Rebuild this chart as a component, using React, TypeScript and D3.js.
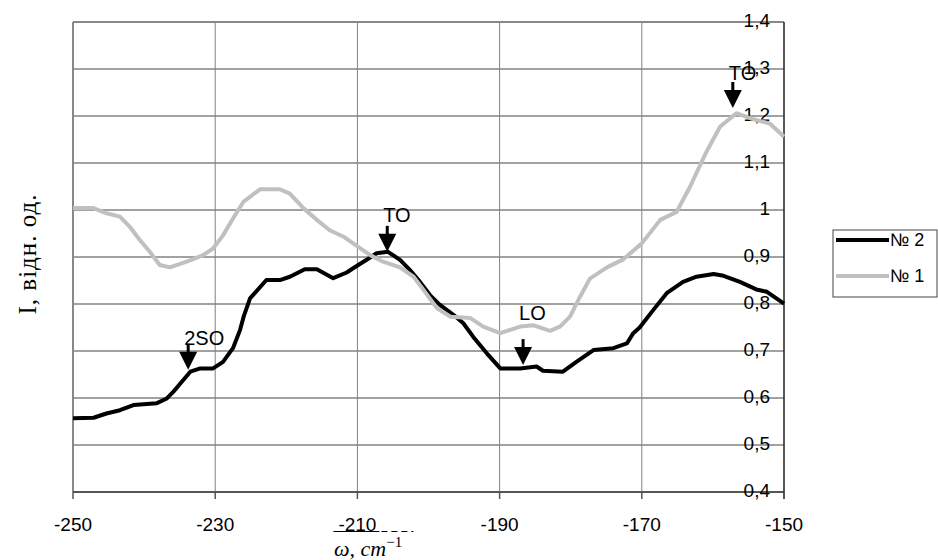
import * as React from 'react';
import * as d3 from 'd3';

// sample №2 (black)
const s2X = [-250, -247.1, -245.3, -243.4, -241.5, -238.2, -236.8, -235.9, -234.9, -233.5, -232.1, -230.3, -228.9, -227.5, -226.5, -226.0, -225.1, -222.8, -220.9, -219.5, -217.4, -215.7, -213.4, -211.5, -210.6, -208.7, -207.3, -205.7, -204.0, -202.6, -201.2, -199.8, -198.4, -196.5, -195.1, -193.7, -191.8, -189.9, -187.1, -184.8, -183.9, -181.1, -179.2, -176.8, -174.0, -172.1, -171.2, -170.3, -168.4, -166.5, -164.2, -162.3, -159.9, -158.5, -156.2, -153.9, -152.4, -150];
const s2Y = [0.557, 0.558, 0.567, 0.574, 0.585, 0.589, 0.599, 0.613, 0.631, 0.656, 0.663, 0.663, 0.677, 0.706, 0.745, 0.773, 0.812, 0.851, 0.851, 0.858, 0.874, 0.874, 0.855, 0.867, 0.876, 0.894, 0.908, 0.911, 0.894, 0.872, 0.847, 0.819, 0.798, 0.777, 0.759, 0.730, 0.695, 0.663, 0.663, 0.667, 0.658, 0.656, 0.677, 0.702, 0.706, 0.716, 0.738, 0.750, 0.787, 0.823, 0.847, 0.858, 0.864, 0.860, 0.847, 0.831, 0.826, 0.801];

// sample №1 (grey)
const s1X = [-250, -247.1, -245.3, -243.4, -242.0, -240.6, -239.2, -237.8, -236.4, -234.0, -231.7, -230.3, -228.9, -227.5, -226.0, -223.7, -220.9, -219.5, -217.6, -215.7, -213.9, -211.8, -210.6, -208.2, -206.4, -204.0, -202.1, -200.7, -198.8, -196.9, -194.1, -192.3, -189.9, -187.1, -185.3, -182.9, -181.5, -180.1, -178.7, -177.3, -174.9, -172.6, -170.0, -167.4, -165.1, -163.2, -160.9, -159.0, -156.7, -154.3, -152.0, -150];
const s1Y = [1.004, 1.004, 0.993, 0.986, 0.964, 0.936, 0.911, 0.883, 0.878, 0.890, 0.904, 0.918, 0.946, 0.982, 1.018, 1.044, 1.044, 1.035, 1.004, 0.979, 0.957, 0.942, 0.929, 0.904, 0.890, 0.878, 0.858, 0.830, 0.791, 0.773, 0.770, 0.752, 0.738, 0.752, 0.755, 0.743, 0.752, 0.773, 0.815, 0.854, 0.878, 0.895, 0.929, 0.979, 0.996, 1.050, 1.124, 1.177, 1.206, 1.193, 1.184, 1.156];

const xTicks = [-250, -230, -210, -190, -170, -150];
const yTicks = [0.4, 0.5, 0.6, 0.7, 0.8, 0.9, 1, 1.1, 1.2, 1.3, 1.4];

// annotations: label, arrow x, arrow tip y, label baseline y (data units)
const annLabels = ['2SO', 'TO', 'LO', 'TO'];
const annX = [-233.8, -205.8, -186.7, -157.2];
const annTip = [0.66, 0.911, 0.67, 1.217];
const annTextY = [0.713, 0.974, 0.766, 1.277];

const legendLabels = ['№ 2', '№ 1'];

export default function App() {
  const ref = React.useRef<SVGSVGElement>(null);

  React.useEffect(() => {
    const svg = d3.select(ref.current);
    svg.selectAll('*').remove();

    const x = d3.scaleLinear().domain([-250, -150]).range([73, 784]);
    const y = d3.scaleLinear().domain([0.4, 1.4]).range([492, 22]);
    const sans = 'Arial, "Liberation Sans", sans-serif';
    const serif = '"Times New Roman", "Liberation Serif", serif';

    svg.append('rect').attr('width', 938).attr('height', 560).attr('fill', '#fff');

    // grid
    svg.append('g').selectAll('line')
      .data(yTicks.slice(1, -1)).enter().append('line')
      .attr('x1', x(-250)).attr('x2', x(-150))
      .attr('y1', d => y(d)).attr('y2', d => y(d))
      .attr('stroke', '#444').attr('stroke-width', 1);
    svg.append('g').selectAll('line')
      .data(xTicks.slice(1, -1)).enter().append('line')
      .attr('x1', d => x(d)).attr('x2', d => x(d))
      .attr('y1', y(1.4)).attr('y2', y(0.4))
      .attr('stroke', '#808080').attr('stroke-width', 1);

    // frame
    svg.append('line').attr('x1', x(-250)).attr('x2', x(-150)).attr('y1', y(1.4)).attr('y2', y(1.4))
      .attr('stroke', '#888').attr('stroke-width', 2);
    svg.append('line').attr('x1', x(-250)).attr('x2', x(-250)).attr('y1', y(1.4)).attr('y2', y(0.4))
      .attr('stroke', '#888').attr('stroke-width', 2);
    svg.append('line').attr('x1', x(-250)).attr('x2', x(-150)).attr('y1', y(0.4)).attr('y2', y(0.4))
      .attr('stroke', '#555').attr('stroke-width', 2);
    svg.append('line').attr('x1', x(-150)).attr('x2', x(-150)).attr('y1', y(1.4)).attr('y2', y(0.4) + 7)
      .attr('stroke', '#222').attr('stroke-width', 1.5);

    // x ticks + labels
    const xt = svg.append('g');
    xt.selectAll('line').data(xTicks).enter().append('line')
      .attr('x1', d => x(d)).attr('x2', d => x(d))
      .attr('y1', y(0.4)).attr('y2', y(0.4) + 7)
      .attr('stroke', '#555').attr('stroke-width', 1.5);
    xt.selectAll('text').data(xTicks).enter().append('text')
      .attr('x', d => x(d)).attr('y', 531)
      .attr('text-anchor', 'middle')
      .style('font-family', sans).style('font-size', '19px')
      .text(d => String(d));
    // stray underline under -210
    svg.append('line').attr('x1', x(-210) - 24).attr('x2', x(-210) + 22).attr('y1', 531.5).attr('y2', 531.5)
      .attr('stroke', '#000').attr('stroke-width', 1);
    svg.append('line').attr('x1', x(-210) + 24).attr('x2', x(-210) + 56).attr('y1', 531.5).attr('y2', 531.5)
      .attr('stroke', '#000').attr('stroke-width', 1).attr('stroke-dasharray', '6,4');

    // y labels, inside at right
    svg.append('g').selectAll('text').data(yTicks).enter().append('text')
      .attr('x', 770).attr('y', d => y(d) + 5)
      .attr('text-anchor', 'end')
      .style('font-family', sans).style('font-size', '19px')
      .text(d => d3.format('.1f')(d).replace('.0', '').replace('.', ','));

    // series
    const line = d3.line<[number, number]>().x(d => x(d[0])).y(d => y(d[1]));
    svg.append('path')
      .attr('d', line(s2X.map((v, i) => [v, s2Y[i]] as [number, number])))
      .attr('fill', 'none').attr('stroke', '#000').attr('stroke-width', 4)
      .attr('stroke-linejoin', 'round');
    svg.append('path')
      .attr('d', line(s1X.map((v, i) => [v, s1Y[i]] as [number, number])))
      .attr('fill', 'none').attr('stroke', '#c0c0c0').attr('stroke-width', 4)
      .attr('stroke-linejoin', 'round');

    // annotations
    annLabels.forEach((lab, i) => {
      const ax = x(annX[i]);
      const tip = y(annTip[i]);
      svg.append('line').attr('x1', ax).attr('x2', ax).attr('y1', tip - 26).attr('y2', tip - 16)
        .attr('stroke', '#000').attr('stroke-width', 3);
      svg.append('path')
        .attr('d', `M${ax - 9},${tip - 18}L${ax + 9},${tip - 18}L${ax},${tip}Z`)
        .attr('fill', '#000');
      svg.append('text').attr('x', ax - 4).attr('y', y(annTextY[i]))
        .style('font-family', sans).style('font-size', '20px')
        .text(lab);
    });

    // axis titles
    svg.append('text')
      .attr('transform', 'translate(36,254) rotate(-90)')
      .attr('text-anchor', 'middle')
      .style('font-family', serif).style('font-size', '25px').style('letter-spacing', '1px')
      .text('I, відн. од.');
    const xl = svg.append('text').attr('x', 334).attr('y', 556)
      .style('font-family', serif).style('font-size', '22px').style('font-style', 'italic');
    xl.append('tspan').text('ω, cm');
    xl.append('tspan').attr('dy', -9).style('font-size', '15px').style('font-style', 'normal').text('−1');

    // legend
    const lg = svg.append('g');
    lg.append('rect').attr('x', 833).attr('y', 230).attr('width', 104).attr('height', 67)
      .attr('fill', '#fff').attr('stroke', '#444').attr('stroke-width', 1);
    const lgColors = ['#000', '#c0c0c0'];
    const lgY = [240, 276];
    legendLabels.forEach((lab, i) => {
      lg.append('line').attr('x1', 836).attr('x2', 889).attr('y1', lgY[i]).attr('y2', lgY[i])
        .attr('stroke', lgColors[i]).attr('stroke-width', 4);
      lg.append('text').attr('x', 890).attr('y', lgY[i] + 6)
        .style('font-family', sans).style('font-size', '18px')
        .text(lab);
    });
  }, []);

  return (
    <svg ref={ref} width={938} height={560}
      style={{ position: 'absolute', left: 0, top: 0, display: 'block' }} />
  );
}
